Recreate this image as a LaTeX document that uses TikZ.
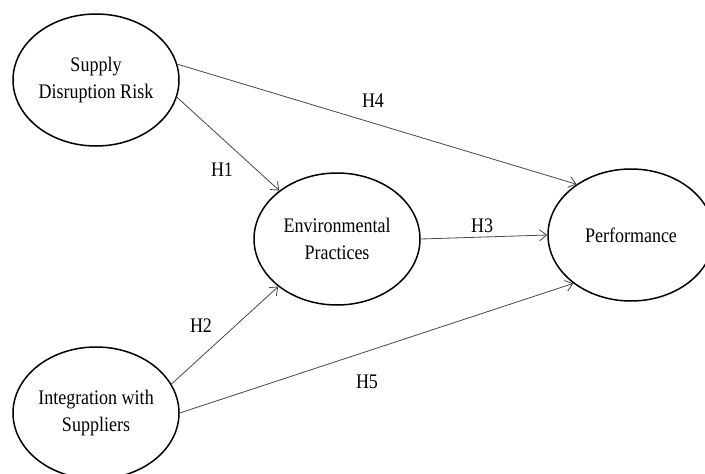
\documentclass[tikz,border=0pt]{standalone}
\usepackage{fontspec}
\setmainfont{Liberation Serif}
\usetikzlibrary{shapes.geometric,arrows.meta}
\newcommand{\tall}[1]{\scalebox{1}[1.15]{#1}}
\tikzset{
  construct/.style={draw=black, line width=1.5pt, ellipse, minimum width=166pt, minimum height=132pt, inner sep=0pt, align=center, font=\fontsize{18}{27}\selectfont},
  hyp/.style={draw=black!72, line width=0.8pt, -{Straight Barb[length=7pt,width=11pt]}},
  hlabel/.style={inner sep=0pt, font=\fontsize{18}{20}\selectfont}
}

\begin{document}
\begin{tikzpicture}[x=1pt,y=-1pt]
			%%%%% START %%%%%
			\useasboundingbox (0,0) rectangle (705,474);
			\clip (0,0) rectangle (705,474);
			
			\node[construct] (sdr) at (96, 80) {\tall{Supply}\\\tall{Disruption Risk}};
			\node[construct] (env) at (337, 239) {\tall{Environmental}\\\tall{Practices}};
			\node[construct] (perf) at (631, 235) {\tall{Performance}};
			\node[construct] (isup) at (96, 413) {\tall{Integration with}\\\tall{Suppliers}};
			
			\node[hlabel] (h1) at (222, 170) {\tall{H1}};
			\node[hlabel] (h2) at (201, 326) {\tall{H2}};
			\node[hlabel] (h3) at (482, 226) {\tall{H3}};
			\node[hlabel] (h4) at (373, 101) {\tall{H4}};
			\node[hlabel] (h5) at (367, 382) {\tall{H5}};
			
			\draw[hyp] (sdr.-12) -- (env.140);
			\draw[hyp] (sdr.11) -- (perf.137);
			\draw[hyp] (env.east) -- (perf.west);
			\draw[hyp] (isup.21) -- (env.219);
			\draw[hyp] (isup.0) -- (perf.220);
			
			%%%%% END %%%%%
\end{tikzpicture}
\end{document}
